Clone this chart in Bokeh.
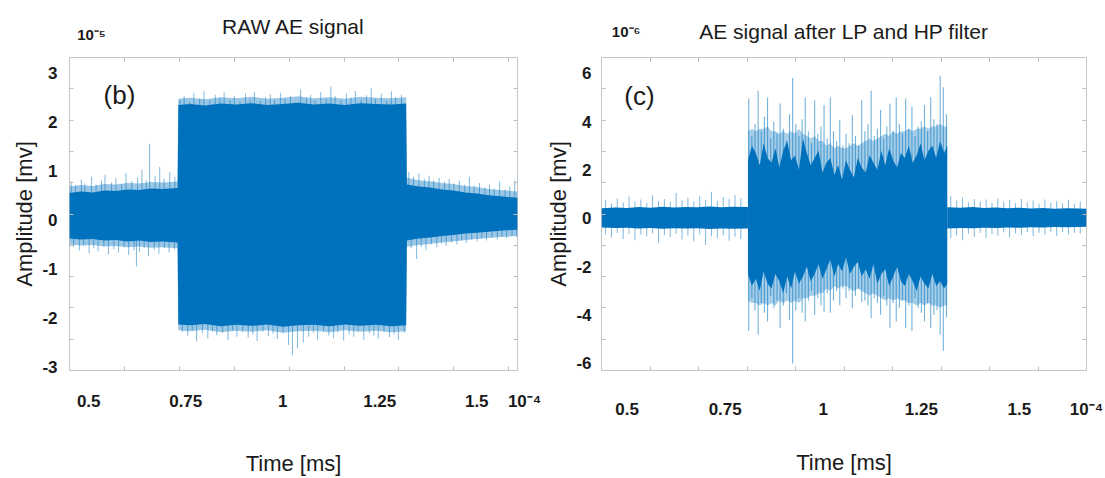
import numpy as np
from bokeh.plotting import figure
from bokeh.layouts import row
from bokeh.models import (Range1d, LinearAxis, FixedTicker, CustomJSTickFormatter, Label)
from bokeh.embed import file_html
from bokeh.resources import INLINE

# ---------------- RAW AE signal (time x1e-4 ms, amplitude x1e-5 mv) ----------------
# dense envelope of the trace and its lighter fringe
raw_t = [0.450, 0.480, 0.510, 0.540, 0.570, 0.600, 0.630, 0.660, 0.690, 0.729,
         0.731, 0.760, 0.800, 0.840, 0.880, 0.920, 0.960, 1.000, 1.040, 1.080, 1.120, 1.160, 1.200, 1.240, 1.280, 1.318,
         1.320, 1.350, 1.380, 1.410, 1.440, 1.470, 1.500, 1.530, 1.560, 1.605]
raw_hi = [0.55, 0.58, 0.56, 0.60, 0.59, 0.62, 0.61, 0.64, 0.63, 0.65,
          2.34, 2.36, 2.33, 2.37, 2.35, 2.38, 2.34, 2.36, 2.39, 2.35, 2.37, 2.34, 2.38, 2.36, 2.35, 2.37,
          0.72, 0.68, 0.66, 0.62, 0.60, 0.56, 0.54, 0.50, 0.48, 0.45]
raw_lo = [-0.38, -0.40, -0.39, -0.42, -0.41, -0.44, -0.42, -0.45, -0.44, -0.46,
          -2.13, -2.15, -2.12, -2.17, -2.14, -2.16, -2.13, -2.18, -2.15, -2.14, -2.17, -2.13, -2.16, -2.14, -2.17, -2.15,
          -0.42, -0.38, -0.36, -0.33, -0.31, -0.28, -0.26, -0.24, -0.22, -0.20]
raw_fringe_hi = [0.68, 0.71, 0.69, 0.73, 0.72, 0.75, 0.74, 0.77, 0.76, 0.78,
                 2.47, 2.49, 2.46, 2.50, 2.48, 2.51, 2.47, 2.49, 2.52, 2.48, 2.50, 2.47, 2.51, 2.49, 2.48, 2.50,
                 0.86, 0.81, 0.79, 0.75, 0.73, 0.69, 0.67, 0.63, 0.61, 0.58]
raw_fringe_lo = [-0.50, -0.52, -0.51, -0.54, -0.53, -0.56, -0.54, -0.57, -0.56, -0.58,
                 -2.25, -2.27, -2.24, -2.29, -2.26, -2.28, -2.25, -2.30, -2.27, -2.26, -2.29, -2.25, -2.28, -2.26, -2.29, -2.27,
                 -0.55, -0.51, -0.49, -0.46, -0.44, -0.41, -0.39, -0.37, -0.35, -0.33]
# individual peaks poking out of the envelope
raw_pre_up_t = [0.455, 0.466, 0.481, 0.490, 0.507, 0.519, 0.533, 0.542, 0.559, 0.570, 0.585,
                0.596, 0.611, 0.626, 0.637, 0.648, 0.657, 0.671, 0.683, 0.694, 0.709, 0.722]
raw_pre_up_v = [0.78, 0.70, 0.82, 0.74, 0.88, 0.72, 0.80, 0.92, 0.76, 0.85, 0.73,
                0.95, 0.79, 0.86, 1.02, 0.81, 1.55, 0.90, 1.08, 0.84, 0.97, 0.88]
raw_pre_dn_t = [0.461, 0.476, 0.487, 0.501, 0.513, 0.524, 0.539, 0.551, 0.565, 0.577, 0.591,
                0.603, 0.617, 0.623, 0.631, 0.643, 0.654, 0.669, 0.681, 0.695, 0.707, 0.721]
raw_pre_dn_v = [-0.55, -0.62, -0.52, -0.68, -0.58, -0.64, -0.54, -0.70, -0.60, -0.66, -0.56,
                -0.72, -0.62, -0.95, -0.65, -0.58, -0.74, -0.61, -0.69, -0.57, -0.66, -0.60]
raw_burst_up_t = [0.735, 0.746, 0.760, 0.771, 0.786, 0.797, 0.812, 0.826, 0.838, 0.849, 0.864, 0.875,
                  0.890, 0.904, 0.916, 0.927, 0.942, 0.956, 0.968, 0.979, 0.994, 1.006, 1.020,
                  1.031, 1.046, 1.061, 1.072, 1.083, 1.098, 1.112, 1.124, 1.135, 1.150, 1.164,
                  1.176, 1.187, 1.202, 1.216, 1.228, 1.239, 1.254, 1.268, 1.280, 1.291, 1.306]
raw_burst_up_v = [2.45, 2.52, 2.40, 2.58, 2.47, 2.62, 2.43, 2.55, 2.49, 2.60, 2.44, 2.53,
                  2.41, 2.57, 2.46, 2.61, 2.42, 2.50, 2.56, 2.44, 2.59, 2.47, 2.53,
                  2.40, 2.66, 2.48, 2.55, 2.43, 2.60, 2.46, 2.72, 2.52, 2.44, 2.58,
                  2.49, 2.63, 2.45, 2.54, 2.68, 2.47, 2.57, 2.43, 2.62, 2.50, 2.55]
raw_burst_dn_t = [0.741, 0.755, 0.767, 0.778, 0.793, 0.807, 0.819, 0.830, 0.845, 0.859, 0.871, 0.882,
                  0.897, 0.911, 0.923, 0.934, 0.949, 0.963, 0.975, 0.986, 1.001, 1.015, 1.025,
                  1.038, 1.053, 1.067, 1.079, 1.090, 1.105, 1.119, 1.131, 1.142, 1.157, 1.171,
                  1.183, 1.194, 1.209, 1.223, 1.235, 1.246, 1.261, 1.275, 1.287, 1.298, 1.313]
raw_burst_dn_v = [-2.28, -2.36, -2.25, -2.48, -2.31, -2.42, -2.27, -2.35, -2.30, -2.45, -2.26, -2.38,
                  -2.29, -2.40, -2.33, -2.47, -2.28, -2.37, -2.32, -2.43, -2.30, -2.55, -2.75,
                  -2.62, -2.50, -2.38, -2.30, -2.44, -2.27, -2.36, -2.41, -2.29, -2.46, -2.33,
                  -2.38, -2.27, -2.44, -2.31, -2.36, -2.42, -2.28, -2.39, -2.33, -2.45, -2.30]
raw_post_up_t = [1.325, 1.337, 1.351, 1.365, 1.377, 1.389, 1.403, 1.417, 1.429, 1.441, 1.455,
                 1.469, 1.481, 1.493, 1.507, 1.521, 1.533, 1.545, 1.559, 1.573, 1.585, 1.598]
raw_post_up_v = [0.98, 0.88, 0.95, 0.84, 0.90, 0.80, 0.86, 0.78, 0.83, 0.74, 0.80,
                 0.72, 0.88, 0.70, 0.75, 0.66, 0.72, 0.64, 0.78, 0.62, 0.68, 0.80]
raw_post_dn_t = [1.331, 1.345, 1.357, 1.369, 1.383, 1.397, 1.409, 1.421, 1.435, 1.449, 1.461,
                 1.473, 1.487, 1.501, 1.513, 1.525, 1.539, 1.553, 1.565, 1.577, 1.591, 1.603]
raw_post_dn_v = [-0.58, -0.80, -0.55, -0.62, -0.50, -0.56, -0.48, -0.53, -0.45, -0.50, -0.42,
                 -0.47, -0.40, -0.44, -0.38, -0.42, -0.36, -0.40, -0.34, -0.37, -0.33, -0.35]

# ------------- AE signal after LP and HP filter (amplitude x1e-6 mv) -------------
filt_pre_t = [0.435, 0.470, 0.500, 0.530, 0.560, 0.590, 0.620, 0.650, 0.680, 0.710, 0.740, 0.770, 0.808]
filt_pre_hi = [0.42, 0.45, 0.43, 0.47, 0.44, 0.48, 0.45, 0.47, 0.46, 0.49, 0.46, 0.48, 0.47]
filt_pre_lo = [-0.38, -0.40, -0.39, -0.42, -0.40, -0.43, -0.41, -0.42, -0.41, -0.44, -0.42, -0.43, -0.42]
filt_post_t = [1.316, 1.350, 1.380, 1.410, 1.440, 1.470, 1.500, 1.530, 1.560, 1.590, 1.620, 1.650, 1.671]
filt_post_hi = [0.46, 0.44, 0.47, 0.43, 0.45, 0.42, 0.44, 0.41, 0.43, 0.40, 0.42, 0.41, 0.40]
filt_post_lo = [-0.42, -0.40, -0.41, -0.39, -0.40, -0.38, -0.39, -0.37, -0.38, -0.36, -0.37, -0.36, -0.35]
filt_burst_t = [0.808, 0.818, 0.828, 0.838, 0.848, 0.858, 0.868, 0.878, 0.888, 0.898,
                0.908, 0.918, 0.928, 0.938, 0.948, 0.958, 0.968, 0.978, 0.988, 0.998,
                1.008, 1.018, 1.028, 1.038, 1.048, 1.058, 1.068, 1.078, 1.088, 1.098,
                1.108, 1.118, 1.128, 1.138, 1.148, 1.158, 1.168, 1.178, 1.188, 1.198,
                1.208, 1.218, 1.228, 1.238, 1.248, 1.258, 1.268, 1.278, 1.288, 1.298,
                1.308, 1.316]
filt_burst_hi = [2.4, 3.0, 2.7, 2.2, 3.1, 2.5, 2.3, 2.9, 2.1, 2.8,
                 3.2, 2.4, 2.6, 2.0, 3.3, 2.7, 2.2, 2.5, 2.8, 1.9,
                 2.3, 2.5, 1.8, 2.2, 1.6, 2.4, 2.0, 1.7, 2.5, 2.1,
                 1.9, 2.6, 2.3, 2.0, 2.8, 2.2, 2.9, 2.4, 2.1, 2.7,
                 2.5, 3.0, 2.3, 2.6, 3.1, 2.4, 2.8, 3.0, 2.5, 3.2,
                 2.7, 3.0]
filt_burst_lo = [-2.3, -2.8, -2.5, -3.0, -2.2, -2.7, -2.9, -2.3, -2.6, -3.1,
                 -2.4, -2.9, -2.2, -2.7, -2.4, -2.0, -2.6, -2.3, -1.9, -2.5,
                 -2.1, -1.7, -2.4, -1.9, -2.2, -1.6, -2.3, -2.0, -1.8, -2.4,
                 -2.1, -2.5, -1.9, -2.7, -2.3, -2.1, -2.8, -2.4, -2.0, -2.6,
                 -2.8, -2.3, -2.6, -3.0, -2.4, -2.7, -2.9, -2.3, -2.8, -2.6,
                 -2.9, -2.7]
filt_halo_hi = [3.6, 3.7, 3.6, 3.7, 3.7, 3.8, 3.6, 3.6, 3.5, 3.6,
                3.5, 3.6, 3.5, 3.7, 3.5, 3.4, 3.3, 3.4, 3.2, 3.2,
                3.0, 3.1, 2.9, 3.0, 2.9, 2.9, 3.0, 3.1, 3.0, 3.1,
                3.2, 3.3, 3.2, 3.3, 3.4, 3.5, 3.4, 3.6, 3.5, 3.6,
                3.6, 3.7, 3.6, 3.7, 3.7, 3.8, 3.7, 3.8, 3.8, 3.9,
                3.8, 3.8]
filt_halo_lo = [-3.4, -3.5, -3.5, -3.6, -3.5, -3.6, -3.5, -3.6, -3.4, -3.5,
                -3.4, -3.5, -3.4, -3.5, -3.3, -3.3, -3.2, -3.2, -3.1, -3.1,
                -2.9, -3.0, -2.8, -2.9, -2.8, -2.8, -2.9, -3.0, -2.9, -3.0,
                -3.1, -3.2, -3.1, -3.2, -3.3, -3.4, -3.3, -3.4, -3.3, -3.4,
                -3.4, -3.5, -3.5, -3.6, -3.5, -3.6, -3.5, -3.6, -3.6, -3.7,
                -3.6, -3.6]
filt_spike_t = [0.810, 0.818, 0.826, 0.834, 0.842, 0.850, 0.858, 0.866, 0.874, 0.882, 0.890, 0.898,
                0.906, 0.914, 0.922, 0.930, 0.938, 0.946, 0.954, 0.962, 0.970, 0.978, 0.986, 0.994,
                1.002, 1.010, 1.018, 1.026, 1.034, 1.042, 1.050, 1.058, 1.066, 1.074, 1.082, 1.090,
                1.098, 1.106, 1.114, 1.122, 1.130, 1.138, 1.146, 1.154, 1.162, 1.170, 1.178, 1.186,
                1.194, 1.202, 1.210, 1.218, 1.226, 1.234, 1.242, 1.250, 1.258, 1.266, 1.274, 1.282,
                1.290, 1.298, 1.306, 1.314]
filt_spike_up = [4.95, 3.4, 3.9, 5.28, 3.6, 4.2, 5.0, 3.3, 4.0, 3.5, 4.75, 3.7,
                 3.2, 4.3, 5.8, 3.9, 3.4, 4.1, 5.0, 3.6, 3.1, 4.88, 3.5, 3.8,
                 4.68, 3.3, 5.0, 3.6, 3.2, 4.07, 3.0, 3.5, 3.1, 4.27, 3.4, 3.0,
                 4.88, 3.6, 3.9, 5.28, 3.4, 3.7, 4.48, 3.3, 3.8, 4.74, 3.6, 5.0,
                 3.9, 3.5, 4.95, 3.7, 4.61, 3.4, 3.8, 4.0, 4.68, 3.6, 5.01, 4.1,
                 3.9, 5.9, 5.42, 4.3]
filt_spike_dn = [-4.66, -3.3, -3.8, -4.80, -3.5, -3.9, -4.26, -3.2, -3.7, -3.4, -4.53, -3.6,
                 -3.1, -4.2, -6.0, -3.8, -3.3, -3.9, -4.26, -3.4, -3.0, -3.99, -3.3, -3.6,
                 -3.86, -3.1, -3.9, -3.4, -3.0, -3.59, -2.9, -3.3, -3.0, -3.72, -3.2, -2.9,
                 -3.46, -3.4, -3.6, -4.12, -3.3, -3.5, -3.99, -3.2, -3.6, -4.53, -3.5, -4.26,
                 -3.7, -3.4, -4.53, -3.6, -4.66, -3.3, -3.7, -3.9, -4.26, -3.5, -4.53, -4.0,
                 -3.8, -4.80, -5.47, -4.1]
filt_base_t = [0.445, 0.460, 0.475, 0.490, 0.505, 0.520, 0.535, 0.550, 0.565, 0.580, 0.595, 0.610,
               0.625, 0.640, 0.655, 0.670, 0.685, 0.700, 0.715, 0.730, 0.745, 0.760, 0.775, 0.790,
               1.325, 1.340, 1.355, 1.370, 1.385, 1.400, 1.415, 1.430, 1.445, 1.460, 1.475, 1.490,
               1.505, 1.520, 1.535, 1.550, 1.565, 1.580, 1.595, 1.610, 1.625, 1.640, 1.655]
filt_base_hi = [0.75, 0.62, 0.82, 0.66, 0.90, 0.70, 0.78, 0.64, 0.95, 0.72, 0.80, 0.68,
                1.05, 0.74, 0.86, 0.70, 0.92, 0.76, 1.10, 0.72, 0.88, 0.80, 0.96, 0.84,
                0.92, 0.74, 0.85, 0.66, 0.80, 0.70, 0.78, 0.64, 0.82, 0.68, 0.76, 0.62,
                0.80, 0.66, 0.74, 0.60, 0.78, 0.64, 0.72, 0.62, 0.76, 0.60, 0.70]
filt_base_lo = [-0.66, -0.80, -0.60, -0.85, -0.64, -0.90, -0.68, -0.75, -0.62, -1.00, -0.70, -0.78,
                -0.64, -0.88, -0.72, -0.95, -0.66, -1.10, -0.74, -0.82, -0.70, -0.92, -0.76, -0.86,
                -0.82, -0.70, -0.90, -0.64, -0.76, -0.60, -0.80, -0.66, -0.72, -0.58, -0.78, -0.62,
                -0.70, -0.56, -0.74, -0.60, -0.68, -0.58, -0.72, -0.56, -0.66, -0.60, -0.64]

# ---------------- tick labels ----------------
time_ticks = [0.5, 0.75, 1.0, 1.25, 1.5]
time_labels = ["0.5", "0.75", "1", "1.25", "1.5"]
time_exponent = "10\u207b\u2074"
raw_amp_ticks = [-3, -2, -1, 0, 1, 2, 3]
raw_amp_labels = ["-3", "-2", "-1", "0", "1", "2", "3"]
raw_amp_exponent = "10\u207b\u2075"
filt_amp_ticks = [-6, -4, -2, 0, 2, 4, 6]
filt_amp_labels = ["-6", "-4", "-2", "0", "2", "4", "6"]
filt_amp_exponent = "10\u207b\u2076"

BLUE = "#0072BD"
TICK_C = "#bdbdbd"
TEXT_C = "#1a1a1a"
FONT = "Liberation Sans"
NBSP = "\u00a0"


def label_formatter(positions, texts):
    return CustomJSTickFormatter(args=dict(positions=[float(v) for v in positions], texts=list(texts)), code="""
        for (let i = 0; i < positions.length; i++) {
            if (Math.abs(positions[i] - tick) < 1e-9) return texts[i];
        }
        return "";
    """)


def bare(ax):
    ax.major_tick_in = 0
    ax.major_tick_out = 0
    ax.major_tick_line_color = None
    ax.minor_tick_line_color = None
    ax.axis_line_color = None


def tick_only(ax, marks):
    # light inward box ticks, no labels
    ax.ticker = FixedTicker(ticks=[float(t) for t in marks])
    ax.formatter = CustomJSTickFormatter(code="return '';")
    ax.major_label_text_font_size = "0px"
    ax.major_label_standoff = 0
    ax.major_tick_in = 4
    ax.major_tick_out = 0
    ax.major_tick_line_color = TICK_C
    ax.minor_tick_line_color = None
    ax.axis_line_color = None


def label_axis(positions, texts, standoff, text, text_standoff):
    ax = LinearAxis(ticker=FixedTicker(ticks=[float(v) for v in positions]),
                    formatter=label_formatter(positions, texts))
    bare(ax)
    ax.major_label_standoff = standoff
    ax.major_label_text_font = FONT
    ax.major_label_text_font_size = "17px"
    ax.major_label_text_font_style = "bold"
    ax.major_label_text_color = TEXT_C
    ax.axis_label = text
    ax.axis_label_text_font = FONT
    ax.axis_label_text_font_size = "22px"
    ax.axis_label_text_font_style = "normal"
    ax.axis_label_text_color = TEXT_C
    ax.axis_label_standoff = text_standoff
    return ax


def frame_width(width, left, right):
    return width - left - right


def make_panel(width, xr, yr, borders, xticks_marks, yticks_marks, amp_ticks, amp_labels,
               amp_exponent, exp_px, exp_standoff, end_pad,
               title, title_standoff, x_standoff, xl_standoff, y_standoff, yl_standoff):
    left, right, top, bottom = borders
    p = figure(width=width, height=478, x_range=Range1d(*xr), y_range=Range1d(*yr),
               output_backend="svg", toolbar_location=None, title=None,
               min_border_left=left, min_border_right=right,
               min_border_top=top, min_border_bottom=bottom)
    p.background_fill_color = "white"
    p.border_fill_color = "white"
    p.outline_line_color = "#c4c4c4"
    p.outline_line_width = 1
    p.xgrid.visible = False
    p.ygrid.visible = False

    tick_only(p.xaxis[0], xticks_marks)
    tick_only(p.yaxis[0], yticks_marks)
    top_ax = LinearAxis()
    tick_only(top_ax, xticks_marks)
    p.add_layout(top_ax, "above")
    right_ax = LinearAxis()
    tick_only(right_ax, yticks_marks)
    p.add_layout(right_ax, "right")

    # time labels, with the x10^-4 multiplier at the right end of the axis
    x_end = xr[1] - 1e-7
    p.add_layout(label_axis(time_ticks + [x_end], time_labels + [NBSP * end_pad + time_exponent],
                            x_standoff, "Time [ms]", xl_standoff), "below")
    p.add_layout(label_axis(amp_ticks, amp_labels, y_standoff, "Amplitude [mv]", yl_standoff), "left")

    # amplitude multiplier above the top-left corner; the panel title rides on the same axis
    x_exp = xr[0] + exp_px * (xr[1] - xr[0]) / frame_width(width, left, right)
    exp_ax = LinearAxis(ticker=FixedTicker(ticks=[x_exp]), formatter=label_formatter([x_exp], [amp_exponent]))
    bare(exp_ax)
    exp_ax.major_label_standoff = exp_standoff
    exp_ax.major_label_text_font = FONT
    exp_ax.major_label_text_font_size = "15px"
    exp_ax.major_label_text_font_style = "bold"
    exp_ax.major_label_text_color = TEXT_C
    exp_ax.axis_label = title
    exp_ax.axis_label_text_font = FONT
    exp_ax.axis_label_text_font_size = "21px"
    exp_ax.axis_label_text_font_style = "normal"
    exp_ax.axis_label_text_color = TEXT_C
    exp_ax.axis_label_standoff = title_standoff
    p.add_layout(exp_ax, "above")
    return p


def peaks(p, t, v, alpha, width):
    p.segment(x0=t, y0=[0] * len(t), x1=t, y1=v, line_color=BLUE, line_alpha=alpha, line_width=width)


# ---------------- left panel: raw signal ----------------
raw_x = (0.4505, 1.605)
raw_y = (-3.07, 3.31)
raw_tick_step = 0.1415
raw_xmarks = raw_x[0] + np.arange(1, 9) * raw_tick_step
raw_ymarks = np.linspace(raw_y[0], raw_y[1], 11)[1:-1]

p1 = make_panel(543, raw_x, raw_y, (69, 26, 57, 105), raw_xmarks, raw_ymarks,
                raw_amp_ticks, raw_amp_labels, raw_amp_exponent, 22, 15, 3,
                "RAW AE signal", -15, 21, 37, 12, 2)
p1.varea(x=raw_t, y1=raw_fringe_lo, y2=raw_fringe_hi, fill_color=BLUE, fill_alpha=0.4)
for t, v in [(raw_pre_up_t, raw_pre_up_v), (raw_pre_dn_t, raw_pre_dn_v),
             (raw_burst_up_t, raw_burst_up_v), (raw_burst_dn_t, raw_burst_dn_v),
             (raw_post_up_t, raw_post_up_v), (raw_post_dn_t, raw_post_dn_v)]:
    peaks(p1, t, v, 0.5, 1)
p1.varea(x=raw_t, y1=raw_lo, y2=raw_hi, fill_color=BLUE)
p1.add_layout(Label(x=raw_x[0], y=raw_y[1], x_offset=50, y_offset=-37, text="(b)",
                    text_font=FONT, text_font_size="26px", text_color=TEXT_C,
                    text_align="center", text_baseline="middle"))

# ---------------- right panel: filtered signal ----------------
filt_x = (0.4347, 1.671)
filt_y = (-6.29, 6.65)
filt_xmarks = np.linspace(filt_x[0], filt_x[1], 11)[1:-1]
filt_ymarks = np.linspace(filt_y[0], filt_y[1], 11)[1:-1]

p2 = make_panel(562, filt_x, filt_y, (51, 19, 56, 101), filt_xmarks, filt_ymarks,
                filt_amp_ticks, filt_amp_labels, filt_amp_exponent, 25, 18, 0,
                "AE signal after LP and HP filter", -23, 29, 28, 10, 2)
p2.varea(x=filt_burst_t, y1=filt_halo_lo, y2=filt_halo_hi, fill_color=BLUE, fill_alpha=0.35)
peaks(p2, filt_spike_t, filt_spike_up, 0.55, 1.1)
peaks(p2, filt_spike_t, filt_spike_dn, 0.55, 1.1)
p2.segment(x0=filt_base_t, y0=filt_base_lo, x1=filt_base_t, y1=filt_base_hi,
           line_color=BLUE, line_alpha=0.5, line_width=1)
p2.varea(x=filt_pre_t, y1=filt_pre_lo, y2=filt_pre_hi, fill_color=BLUE)
p2.varea(x=filt_burst_t, y1=filt_burst_lo, y2=filt_burst_hi, fill_color=BLUE)
p2.varea(x=filt_post_t, y1=filt_post_lo, y2=filt_post_hi, fill_color=BLUE)
p2.add_layout(Label(x=filt_x[0], y=filt_y[1], x_offset=38, y_offset=-38, text="(c)",
                    text_font=FONT, text_font_size="26px", text_color=TEXT_C,
                    text_align="center", text_baseline="middle"))

layout = row(p1, p2)
open("out.html", "w").write(file_html(layout, INLINE))
